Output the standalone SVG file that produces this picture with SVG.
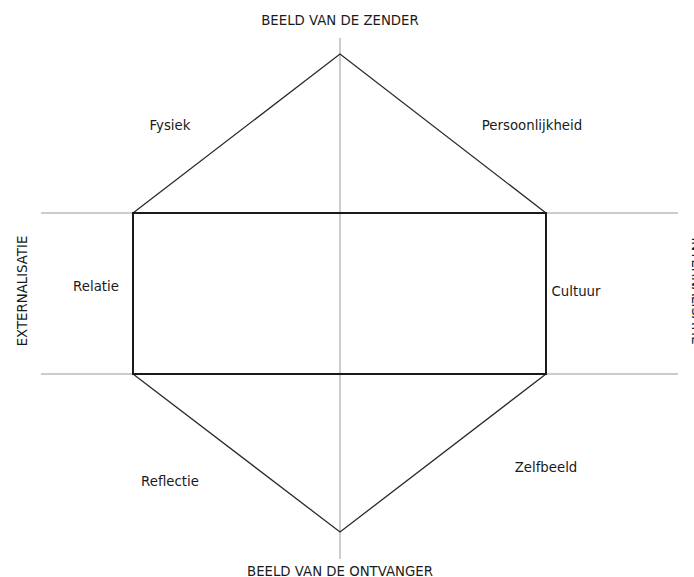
<svg xmlns="http://www.w3.org/2000/svg" width="694" height="577" viewBox="0 0 694 577">
<style>
text{font-family:"DejaVu Sans",Verdana,sans-serif;font-size:13.3px;fill:#1a1a1a;}
.axis{stroke:#999;stroke-width:1;fill:none;}
.edge{stroke:#2a2a2a;stroke-width:1.3;fill:none;}
.box{stroke:#1a1a1a;stroke-width:2;fill:none;}
</style>
<rect width="694" height="577" fill="#fff"/>
<g id="connectors">
<line class="axis" x1="340" y1="38" x2="340" y2="559"/>
<line class="axis" x1="41" y1="213" x2="678" y2="213"/>
<line class="axis" x1="41" y1="374" x2="678" y2="374"/>
<polyline class="edge" points="133,213 340,54 546,213"/>
<polyline class="edge" points="133,374 340,532 546,374"/>
<rect class="box" x="133" y="213" width="413" height="161"/>
</g>
<g id="top"><text x="340" y="25" text-anchor="middle">BEELD VAN DE ZENDER</text></g>
<g id="bottom"><text x="340" y="576" text-anchor="middle">BEELD VAN DE ONTVANGER</text></g>
<g id="left"><text transform="translate(27,291) rotate(-90)" text-anchor="middle">EXTERNALISATIE</text></g>
<g id="right"><text transform="translate(692,291) rotate(90)" text-anchor="middle">INTERNALISATIE</text></g>
<g id="fysiek"><text x="170" y="130" text-anchor="middle">Fysiek</text></g>
<g id="persoonlijkheid"><text x="532" y="130" text-anchor="middle">Persoonlijkheid</text></g>
<g id="relatie"><text x="96" y="291" text-anchor="middle">Relatie</text></g>
<g id="cultuur"><text x="576" y="296" text-anchor="middle">Cultuur</text></g>
<g id="reflectie"><text x="170" y="486" text-anchor="middle">Reflectie</text></g>
<g id="zelfbeeld"><text x="546" y="472" text-anchor="middle">Zelfbeeld</text></g>
</svg>
